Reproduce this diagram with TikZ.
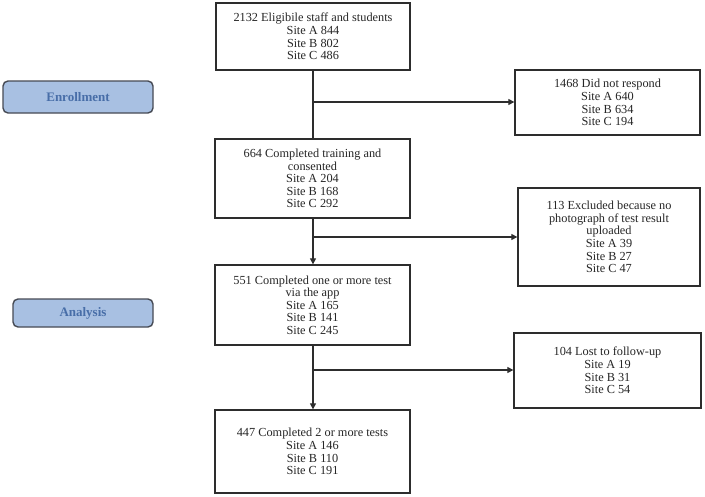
\documentclass[tikz,border=0pt]{standalone}
\usepackage{fontspec}
\setmainfont{Liberation Serif}
\usetikzlibrary{arrows.meta}
\definecolor{phasefill}{RGB}{168,192,226}
\definecolor{phasetext}{RGB}{72,110,168}
\definecolor{phaseedge}{RGB}{70,74,84}
\definecolor{boxedge}{RGB}{45,45,45}
\tikzset{
  flowbox/.style={draw=boxedge, line width=1.3pt, fill=white, align=center, inner sep=0pt,
    font=\fontsize{12.3}{12.6}\selectfont, text=black!85},
  phasebox/.style={draw=phaseedge, line width=1.4pt, fill=phasefill, rounded corners=5pt,
    text=phasetext, font=\fontsize{13}{14}\selectfont\bfseries, inner sep=0pt},
  conn/.style={draw=boxedge, line width=1.2pt},
  arr/.style={conn, -{Triangle[length=6pt,width=6pt]}}
}
\begin{document}
\begin{tikzpicture}[x=1pt,y=-1pt]
\useasboundingbox (0,0) rectangle (705,496);
% phase labels
\node[phasebox, minimum width=150pt, minimum height=32pt] (enroll) at (78,97) {Enrollment};
\node[phasebox, minimum width=140pt, minimum height=28pt] (analysis) at (83,313) {Analysis};
% main column
\node[flowbox, minimum width=194pt, minimum height=67pt] (b1) at (313,36.5)
  {2132 Eligibile staff and students\\Site A 844\\Site B 802\\Site C 486};
\node[flowbox, minimum width=195pt, minimum height=79pt] (b2) at (312.5,178.5)
  {664 Completed training and\\consented\\Site A 204\\Site B 168\\Site C 292};
\node[flowbox, minimum width=195pt, minimum height=80pt] (b3) at (312.5,305)
  {551 Completed one or more test\\via the app\\Site A 165\\Site B 141\\Site C 245};
\node[flowbox, minimum width=195pt, minimum height=83pt] (b4) at (312.5,451.5)
  {447 Completed 2 or more tests\\Site A 146\\Site B 110\\Site C 191};
% side boxes
\node[flowbox, minimum width=185pt, minimum height=65pt] (r1) at (607.5,102.5)
  {1468 Did not respond\\Site A 640\\Site B 634\\Site C 194};
\node[flowbox, minimum width=182pt, minimum height=98pt] (r2) at (609,237)
  {113 Excluded because no\\photograph of test result\\uploaded\\Site A 39\\Site B 27\\Site C 47};
\node[flowbox, minimum width=187pt, minimum height=75pt] (r3) at (607.5,370.5)
  {104 Lost to follow-up\\Site A 19\\Site B 31\\Site C 54};
% branch points
\coordinate (j1) at (313,102);
\coordinate (j2) at (313,237);
\coordinate (j3) at (313,370);
% connectors
\draw[conn] (b1.south -| j1) -- (b2.north -| j1);
\draw[arr] (b2.south -| j2) -- (b3.north -| j2);
\draw[arr] (b3.south -| j3) -- (b4.north -| j3);
\draw[arr] (j1) -- (r1.west |- j1);
\draw[arr] (j2) -- (r2.west |- j2);
\draw[arr] (j3) -- (r3.west |- j3);
\end{tikzpicture}
\end{document}
